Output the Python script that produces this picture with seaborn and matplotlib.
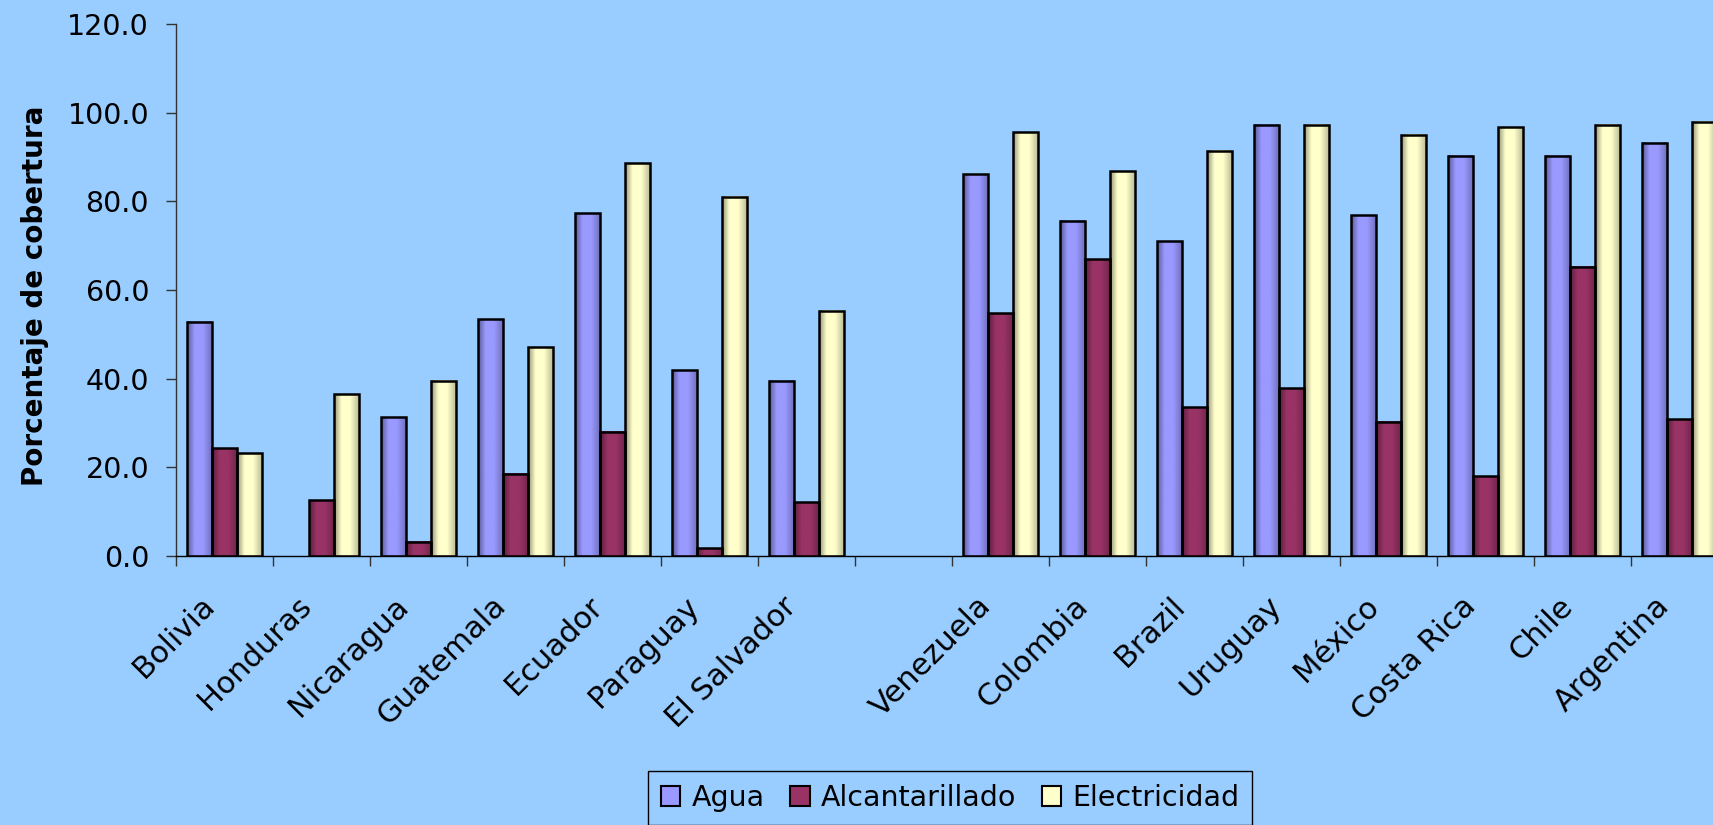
import numpy as np
import pandas as pd
import matplotlib
matplotlib.use('Agg')
import matplotlib.pyplot as plt
import matplotlib.colors as mcolors
from matplotlib.patches import Patch
from matplotlib.ticker import FormatStrFormatter
from matplotlib.transforms import ScaledTranslation
import seaborn as sns

nan = np.nan

countries = ["Bolivia", "Honduras", "Nicaragua", "Guatemala", "Ecuador", "Paraguay",
             "El Salvador", " ", "Venezuela", "Colombia", "Brazil", "Uruguay",
             "México", "Costa Rica", "Chile", "Argentina"]
series = ["Agua", "Alcantarillado", "Electricidad"]
agua = [52.8, nan, 31.3, 53.4, 77.3, 41.9, 39.5, nan, 86.1, 75.6, 71.0, 97.3, 76.9, 90.3, 90.3, 93.2]
alcantarillado = [24.3, 12.6, 3.2, 18.5, 28.0, 1.7, 12.1, nan, 54.7, 66.9, 33.6, 37.8, 30.3, 18.0, 65.3, 30.9]
electricidad = [23.2, 36.5, 39.5, 47.1, 88.6, 81.0, 55.3, nan, 95.6, 86.8, 91.4, 97.3, 95.0, 96.7, 97.3, 97.9]
colors = ["#9999FF", "#993366", "#FFFFCC"]
bg = "#99CCFF"

df = pd.DataFrame({"País": countries, "Agua": agua,
                   "Alcantarillado": alcantarillado, "Electricidad": electricidad})
df = df.melt(id_vars="País", var_name="Servicio", value_name="Valor")

fig = plt.figure(figsize=(17.13, 8.25), dpi=100, facecolor=bg)
ax = fig.add_axes([0.10257, 0.32606, 0.90637, 0.64485])
ax.set_facecolor(bg)

sns.barplot(data=df, x="País", y="Valor", hue="Servicio", order=countries,
            hue_order=series, palette=colors, saturation=1, width=0.77,
            edgecolor="black", linewidth=1.8, errorbar=None, ax=ax)

# Excel-like shading across each bar
t = np.linspace(0, 1, 60)
shade = np.interp(t, [0, 0.3, 0.65, 1.0], [0.58, 1.0, 1.0, 0.74])
for p in list(ax.patches):
    h = p.get_height()
    if not np.isfinite(h) or h <= 0:
        continue
    x0, w = p.get_x(), p.get_width()
    rgb = np.array(mcolors.to_rgb(p.get_facecolor()))
    img = shade[None, :, None] * rgb[None, None, :]
    ax.imshow(img, extent=[x0, x0 + w, 0, h], aspect="auto",
              interpolation="bilinear", zorder=1)
    p.set_facecolor("none")
    p.set_zorder(2)

ax.set_xlim(-0.5, 15.5)
ax.set_ylim(0, 120)
ax.set_xlabel("")
ax.set_ylabel("Porcentaje de cobertura", fontsize=20, fontweight="bold")
ax.yaxis.set_label_coords(-0.0816, 0.49)

ax.set_yticks(range(0, 121, 20))
ax.yaxis.set_major_formatter(FormatStrFormatter("%.1f"))
ax.tick_params(axis="y", length=7.2, width=1, color="#333333", pad=12, labelsize=20.5)

ax.set_xticks(np.arange(-0.5, 16, 1), minor=True)
ax.tick_params(axis="x", which="minor", length=7.2, width=1, color="#333333")
ax.tick_params(axis="x", which="major", length=0, pad=32.8, labelsize=22)
ax.set_xticks(range(len(countries)))
ax.set_xticklabels(countries, rotation=45, ha="right", va="center", rotation_mode="anchor")
shift = ScaledTranslation(-14.5 / 100, 0, fig.dpi_scale_trans)
for lab in ax.get_xticklabels():
    lab.set_transform(lab.get_transform() + shift)

for s in ["top", "right"]:
    ax.spines[s].set_visible(False)
ax.spines["left"].set_color("#333333")
ax.spines["left"].set_linewidth(1)
ax.spines["bottom"].set_color("black")
ax.spines["bottom"].set_linewidth(1)

ax.get_legend().remove()
handles = [Patch(facecolor=c, edgecolor="black", linewidth=1.5) for c in colors]
leg = fig.legend(handles, series, loc="upper center", bbox_to_anchor=(0.5548, 0.06545),
                 ncol=3, frameon=True, fancybox=False, edgecolor="black", facecolor=bg,
                 framealpha=1, fontsize=20.5, handlelength=0.67, handleheight=0.67,
                 handletextpad=0.4, columnspacing=0.9, borderpad=0.45, borderaxespad=0)
leg.get_frame().set_linewidth(1.0)

fig.savefig("out.png", dpi=100, facecolor=bg)
